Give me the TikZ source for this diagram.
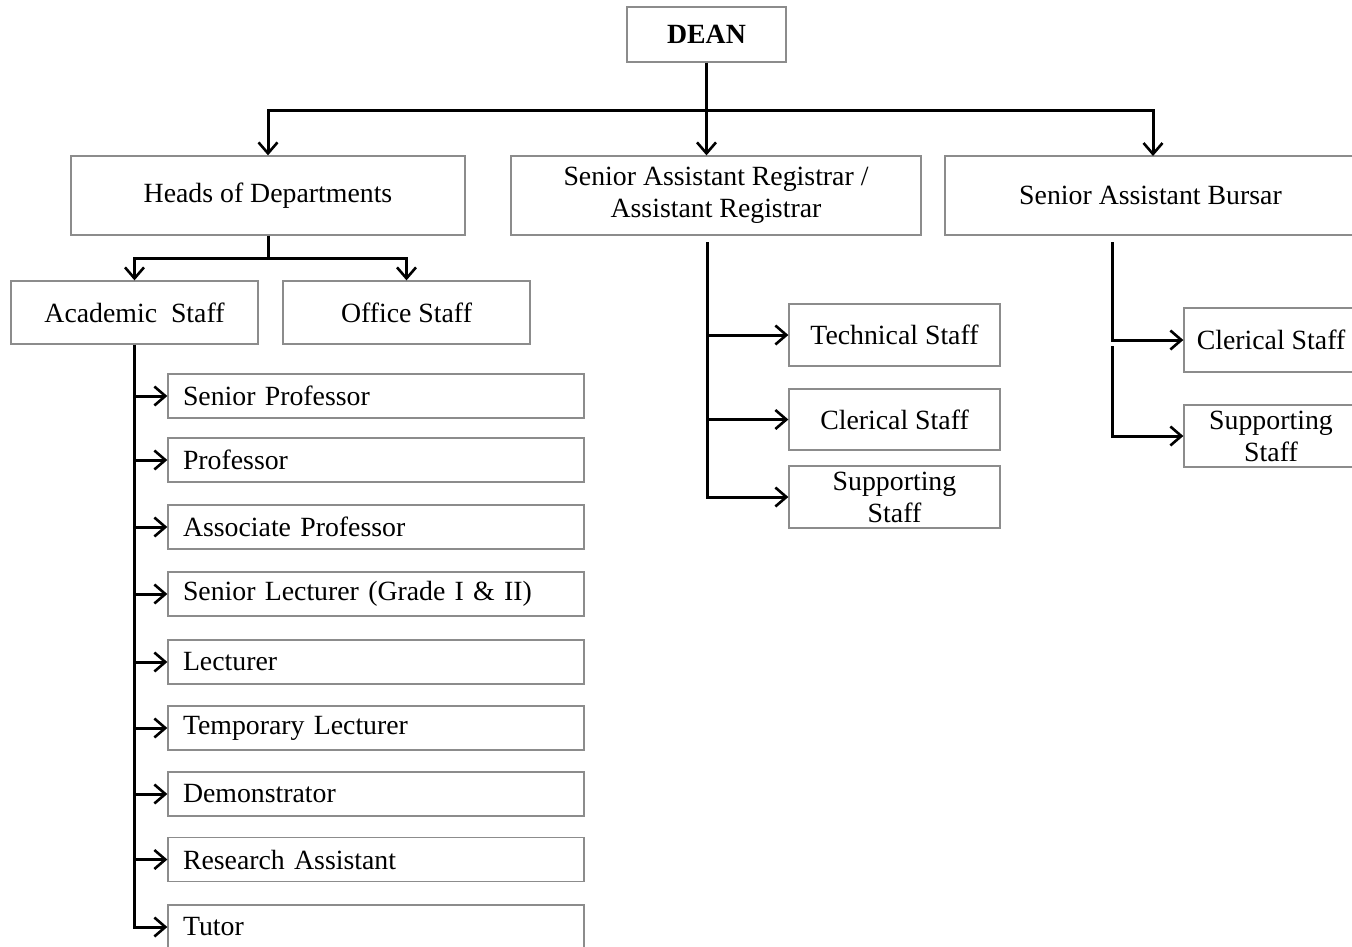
\documentclass[tikz,border=0pt]{standalone}
\usepackage{fontspec}
\setmainfont{Liberation Serif}
\usetikzlibrary{arrows.meta}
\begin{document}
\begin{tikzpicture}[x=1pt,y=-1pt,
  box/.style={draw=black!45, line width=1.3pt, fill=white, inner sep=0pt, align=center,
     font=\fontsize{27.8}{32}\selectfont},
  subbox/.style={box, minimum width=416pt, minimum height=44pt, text width=386pt, align=left},
  rbox/.style={box, minimum width=211pt},
  conn/.style={line width=3pt, line join=miter},
  arr/.style={conn, -{Straight Barb[length=11pt,width=19pt,line width=2.6pt]}}]
\clip (0,0) rectangle (1352,946);
\fill[white] (0,0) rectangle (1352,946);
% top level
\node[box, minimum width=159pt, minimum height=55pt, font=\fontsize{27.8}{32}\selectfont\bfseries] (dean) at (706.5,34.5) {DEAN};
\node[box, minimum width=394pt, minimum height=79pt] (hod) at (268,195.5) {Heads of Departments};
\node[box, minimum width=410pt, minimum height=79pt] (sar) at (716,195.5) {Senior Assistant Registrar /\\Assistant Registrar};
\node[box, minimum width=411pt, minimum height=79pt] (sab) at (1150.5,195.5) {Senior Assistant Bursar};
% HoD children
\node[box, minimum width=247pt, minimum height=63pt] (acad) at (134.5,312.5) {Academic\ \ Staff};
\node[box, minimum width=247pt, minimum height=63pt] (office) at (406.5,312.5) {Office Staff};
% academic staff list
\node[subbox] (s1) at (376,396) {Senior Professor};
\node[subbox] (s2) at (376,460) {Professor};
\node[subbox] (s3) at (376,527) {Associate Professor};
\node[subbox] (s4) at (376,594) {Senior Lecturer (Grade I \& II)};
\node[subbox] (s5) at (376,662) {Lecturer};
\node[subbox] (s6) at (376,728) {Temporary Lecturer};
\node[subbox] (s7) at (376,794) {Demonstrator};
\node[subbox] (s8) at (376,859.5) {Research Assistant};
\node[subbox] (s9) at (376,927) {Tutor};
% registrar children
\node[rbox, minimum height=62pt] (tech) at (894.5,335) {Technical Staff};
\node[rbox, minimum height=61pt] (cler) at (894.5,419.5) {Clerical Staff};
\node[rbox, minimum height=62pt] (supp) at (894.5,497) {Supporting\\Staff};
% bursar children
\node[box, minimum width=174pt, minimum height=64pt] (bcler) at (1271,340) {Clerical Staff};
\node[box, minimum width=174pt, minimum height=62pt] (bsupp) at (1271,436) {Supporting\\Staff};
% coordinates
\coordinate (jm) at (706.5,110);
\coordinate (sabin) at (1153,156);
\coordinate (hj) at (268,258);
\coordinate (sart) at (707,242);
\coordinate (sabt) at (1112,242);
\coordinate (sabm) at (1112,346);
% dean connectors
\draw[conn] (dean.south) -- (jm);
\draw[arr] (jm) -| (hod.north);
\draw[arr] (jm) -| (sabin);
\draw[arr] (jm) -- (jm |- sar.north);
% HoD connectors
\draw[conn] (hod.south) -- (hj);
\draw[arr] (hj) -| (acad.north);
\draw[arr] (hj) -| (office.north);
% academic trunk
\draw[arr] (acad.south) |- (s9.west);
\foreach \n in {s1,s2,s3,s4,s5,s6,s7,s8}
  \draw[arr] (acad.south |- \n.west) -- (\n.west);
% registrar trunk
\draw[arr] (sart) |- (supp.west);
\draw[arr] (sart |- tech.west) -- (tech.west);
\draw[arr] (sart |- cler.west) -- (cler.west);
% bursar trunk
\draw[arr] (sabt) |- (bcler.west);
\draw[arr] (sabm) |- (bsupp.west);
\end{tikzpicture}
\end{document}
